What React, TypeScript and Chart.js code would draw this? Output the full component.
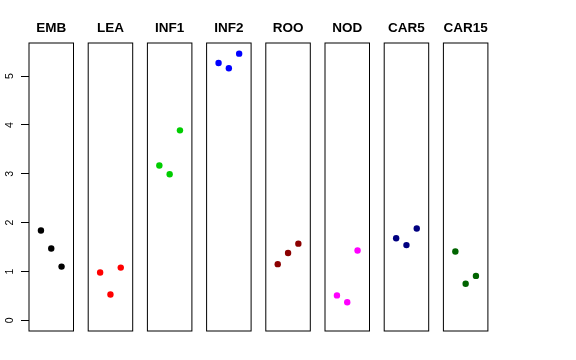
import React, { useEffect, useRef } from "react";
import { Chart, registerables } from "chart.js";

Chart.register(...registerables);

// ---- data ----
const categories = ["EMB", "LEA", "INF1", "INF2", "ROO", "NOD", "CAR5", "CAR15"];
const replicates = [1, 2, 3];
const embValues = [1.84, 1.47, 1.1];
const leaValues = [0.98, 0.53, 1.08];
const inf1Values = [3.17, 2.99, 3.89];
const inf2Values = [5.27, 5.16, 5.46];
const rooValues = [1.15, 1.38, 1.57];
const nodValues = [0.51, 0.37, 1.43];
const car5Values = [1.68, 1.54, 1.88];
const car15Values = [1.41, 0.75, 0.91];
const seriesValues = [embValues, leaValues, inf1Values, inf2Values, rooValues, nodValues, car5Values, car15Values];
const seriesColors = ["#000000", "#FF0000", "#00CD00", "#0000FF", "#8B0000", "#FF00FF", "#000080", "#006400"];
const yTickValues = [0, 1, 2, 3, 4, 5];

// ---- layout ----
const W = 576;
const H = 360;
const FIRST_LEFT = 29;
const STEP = 59.2;
const PANEL_W = 44.5;
const BOTTOM = 331;
const Y_MIN = -0.2184;
const Y_MAX = 5.6784;
const X_MIN = -0.16;
const X_MAX = 4.16;
const FONT = "'Liberation Sans', Arial, Helvetica, sans-serif";

const boxPlugin = {
  id: "panelBox",
  afterDraw(chart: any) {
    const { left, top, right, bottom } = chart.chartArea;
    const ctx = chart.ctx;
    ctx.save();
    ctx.strokeStyle = "#000000";
    ctx.lineWidth = 1;
    ctx.strokeRect(left, top, right - left, bottom - top);
    ctx.restore();
  },
};

function Panel({ index }: { index: number }) {
  const ref = useRef<HTMLCanvasElement | null>(null);
  useEffect(() => {
    if (!ref.current) return;
    const left = FIRST_LEFT + STEP * index;
    const right = left + PANEL_W;
    const withAxis = index === 0;
    const chart = new Chart(ref.current, {
      type: "scatter",
      data: {
        datasets: [
          {
            data: replicates.map((r, j) => ({ x: r, y: seriesValues[index][j] })),
            backgroundColor: seriesColors[index],
            borderColor: seriesColors[index],
            borderWidth: 0,
            pointRadius: 3.2,
            pointHoverRadius: 3.2,
            showLine: false,
            clip: false as any,
          },
        ],
      },
      options: {
        animation: false,
        responsive: false,
        devicePixelRatio: 1,
        events: [],
        layout: {
          padding: {
            left: withAxis ? 0 : left,
            right: W - right,
            top: 0,
            bottom: H - BOTTOM,
          },
        },
        plugins: {
          legend: { display: false },
          tooltip: { enabled: false },
          title: {
            display: true,
            text: categories[index],
            fullSize: false,
            color: "#000000",
            font: { size: 13.5, weight: "bold", family: FONT, lineHeight: 1.2 },
            padding: { top: 20.5, bottom: 6.3 },
          },
        },
        scales: {
          x: {
            type: "linear",
            min: X_MIN,
            max: X_MAX,
            display: false,
          },
          y: {
            type: "linear",
            min: Y_MIN,
            max: Y_MAX,
            display: withAxis,
            position: "left",
            afterBuildTicks: (s: any) => {
              s.ticks = yTickValues.map((v) => ({ value: v }));
            },
            afterFit: (s: any) => {
              s.width = withAxis ? FIRST_LEFT : 0;
            },
            grid: {
              display: true,
              drawOnChartArea: false,
              drawTicks: true,
              tickLength: 8,
              color: "#000000",
              lineWidth: 1,
            },
            border: { display: false },
            ticks: {
              minRotation: 90,
              maxRotation: 90,
              crossAlign: "center",
              padding: 8.2,
              color: "#000000",
              font: { size: 10.5, family: FONT },
              callback: (v: any) => String(v),
            },
          },
        },
      },
      plugins: [boxPlugin],
    } as any);
    return () => chart.destroy();
  }, [index]);
  return (
    <canvas
      ref={ref}
      width={W}
      height={H}
      style={{ position: "absolute", left: 0, top: 0, width: W, height: H }}
    />
  );
}

export default function App() {
  return (
    <div
      style={{
        position: "fixed",
        left: 0,
        top: 0,
        width: W,
        height: H,
        background: "#ffffff",
        overflow: "hidden",
      }}
    >
      {categories.map((c, i) => (
        <Panel key={c} index={i} />
      ))}
    </div>
  );
}
